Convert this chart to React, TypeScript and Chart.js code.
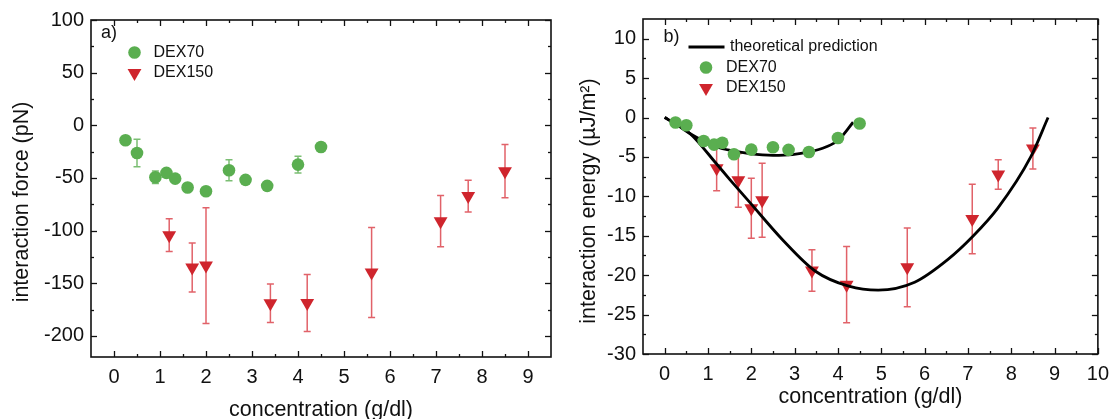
import React, { useEffect, useRef } from "react";
import { Chart, registerables } from "chart.js";

Chart.register(...registerables);

// ---------- data ----------
const DEX70_X = [0.25, 0.5, 0.9, 1.14, 1.33, 1.6, 2.0, 2.5, 2.86, 3.33, 4.0, 4.5];

// panel a) interaction force (pN)
const FORCE_DEX70 = [-14.2, -26.3, -49.3, -45.2, -50.6, -59.1, -62.6, -42.7, -51.8, -57.5, -37.3, -20.6];
const FORCE_DEX70_ERR = [2, 13, 6, 3, 2, 2, 3, 10, 3, 3, 8, 3];
const FORCE_DEX150_X = [1.2, 1.7, 2.0, 3.4, 4.2, 5.6, 7.1, 7.7, 8.5];
const FORCE_DEX150 = [-104.3, -135, -133.2, -169, -168.7, -139.8, -91, -67.2, -43.6];
const FORCE_DEX150_ERR = [15.5, 23.2, 55, 18.3, 27, 42.8, 24.3, 15, 25.3];

// panel b) interaction energy (µJ/m²)
const ENERGY_DEX70 = [-0.63, -0.97, -2.98, -3.44, -3.2, -4.66, -4.07, -3.78, -4.1, -4.37, -2.6, -0.76];
const ENERGY_DEX70_ERR = [0.2, 0.2, 0.3, 0.3, 0.3, 0.4, 0.3, 0.5, 0.3, 0.4, 0.4, 0.2];
const ENERGY_DEX150_X = [1.2, 1.7, 2.0, 2.25, 3.4, 4.2, 5.6, 7.1, 7.7, 8.5];
const ENERGY_DEX150 = [-6.45, -7.97, -11.5, -10.5, -19.4, -21.2, -19.0, -12.87, -7.24, -3.93];
const ENERGY_DEX150_ERR = [2.83, 3.4, 3.8, 4.7, 2.64, 4.85, 5.0, 4.4, 1.87, 2.6];

// theoretical prediction curves
const THEORY_DEX70_X = [0, 0.25, 0.59, 0.9, 1.2, 1.58, 1.96, 2.5, 2.95, 3.33, 3.72, 4.02, 4.35];
const THEORY_DEX70_Y = [0, -0.8, -2.05, -2.98, -3.74, -4.24, -4.58, -4.79, -4.7, -4.37, -3.74, -2.81, -0.6];
const THEORY_DEX150_X = [0, 0.25, 0.59, 1.2, 1.51, 1.95, 2.72, 3.48, 4.25, 4.93, 5.77, 6.54, 7.11, 7.69, 8.45, 8.85];
const THEORY_DEX150_Y = [0, -0.8, -2.05, -5.9, -7.9, -10.67, -15.5, -19.5, -21.4, -21.9, -20.9, -18.0, -15.1, -11.5, -5.0, 0];

// ticks
const FORCE_X_TICKS = [0, 1, 2, 3, 4, 5, 6, 7, 8, 9];
const FORCE_X_MINOR = [0.5, 1.5, 2.5, 3.5, 4.5, 5.5, 6.5, 7.5, 8.5];
const FORCE_Y_TICKS = [-200, -150, -100, -50, 0, 50, 100];
const FORCE_Y_MINOR = [-175, -125, -75, -25, 25, 75];
const ENERGY_X_TICKS = [0, 1, 2, 3, 4, 5, 6, 7, 8, 9, 10];
const ENERGY_X_MINOR = [0.5, 1.5, 2.5, 3.5, 4.5, 5.5, 6.5, 7.5, 8.5, 9.5];
const ENERGY_Y_TICKS = [-30, -25, -20, -15, -10, -5, 0, 5, 10];
const ENERGY_Y_MINOR = [-27.5, -22.5, -17.5, -12.5, -7.5, -2.5, 2.5, 7.5];

// ---------- styles ----------
const GREEN = "#5aae50";
const RED = "#cf252d";
const GREEN_ERR = "rgba(90,174,80,0.8)";
const RED_ERR = "rgba(215,45,55,0.75)";
const INK = "#111";
const FAMILY = "'Liberation Sans', Arial, Helvetica, sans-serif";
const CIRCLE_R = 6.3;
const TRI_R = 8;

const pts = (xs: number[], ys: number[]) => xs.map((x, i) => ({ x, y: ys[i] }));

function errorPlugin(sets: { xs: number[]; ys: number[]; err: number[]; color: string }[]) {
  return {
    id: "errorbars",
    beforeDatasetsDraw(chart: any) {
      const { ctx, scales } = chart;
      ctx.save();
      ctx.lineWidth = 1.5;
      sets.forEach((s) => {
        ctx.strokeStyle = s.color;
        s.xs.forEach((xv, i) => {
          const x = scales.x.getPixelForValue(xv);
          const y1 = scales.y.getPixelForValue(s.ys[i] + s.err[i]);
          const y2 = scales.y.getPixelForValue(s.ys[i] - s.err[i]);
          ctx.beginPath();
          ctx.moveTo(x, y1);
          ctx.lineTo(x, y2);
          ctx.moveTo(x - 3.5, y1);
          ctx.lineTo(x + 3.5, y1);
          ctx.moveTo(x - 3.5, y2);
          ctx.lineTo(x + 3.5, y2);
          ctx.stroke();
        });
      });
      ctx.restore();
    },
  };
}

function framePlugin(
  xMajor: number[],
  xMinor: number[],
  yMajor: number[],
  yMinor: number[],
  yTitle: { text: string; x: number; y: number }
) {
  return {
    id: "frame",
    afterDraw(chart: any) {
      const { ctx, chartArea: a, scales } = chart;
      ctx.save();
      ctx.strokeStyle = INK;
      ctx.lineWidth = 1.6;
      ctx.strokeRect(a.left, a.top, a.right - a.left, a.bottom - a.top);
      ctx.lineWidth = 1.3;
      const seg = (x1: number, y1: number, x2: number, y2: number) => {
        ctx.beginPath();
        ctx.moveTo(x1, y1);
        ctx.lineTo(x2, y2);
        ctx.stroke();
      };
      const xt = (vals: number[], len: number) =>
        vals.forEach((v) => {
          const x = Math.round(scales.x.getPixelForValue(v)) + 0.5;
          seg(x, a.bottom, x, a.bottom - len);
          seg(x, a.top, x, a.top + len);
        });
      const yt = (vals: number[], len: number) =>
        vals.forEach((v) => {
          const y = Math.round(scales.y.getPixelForValue(v)) + 0.5;
          seg(a.left, y, a.left + len, y);
          seg(a.right, y, a.right - len, y);
        });
      xt(xMajor, 6);
      xt(xMinor, 3);
      yt(yMajor, 6);
      yt(yMinor, 3);
      // rotated y-axis title
      ctx.translate(yTitle.x, yTitle.y);
      ctx.rotate(-Math.PI / 2);
      ctx.fillStyle = INK;
      ctx.font = `21.5px ${FAMILY}`;
      ctx.textAlign = "center";
      ctx.textBaseline = "middle";
      ctx.fillText(yTitle.text, 0, 0);
      ctx.restore();
    },
  };
}

type LegendItem = { kind: "circle" | "triangle" | "line"; x: number; y: number; tx: number; text: string };

function legendPlugin(tag: { x: number; y: number; text: string }, items: LegendItem[]) {
  return {
    id: "legendInside",
    afterDraw(chart: any) {
      const { ctx } = chart;
      ctx.save();
      ctx.fillStyle = INK;
      ctx.textBaseline = "middle";
      ctx.textAlign = "left";
      ctx.font = `18px ${FAMILY}`;
      ctx.fillText(tag.text, tag.x, tag.y);
      ctx.font = `16px ${FAMILY}`;
      items.forEach((it) => {
        if (it.kind === "circle") {
          ctx.fillStyle = GREEN;
          ctx.beginPath();
          ctx.arc(it.x, it.y, CIRCLE_R, 0, Math.PI * 2);
          ctx.fill();
        } else if (it.kind === "triangle") {
          const r = TRI_R;
          ctx.fillStyle = RED;
          ctx.beginPath();
          ctx.moveTo(it.x, it.y + r);
          ctx.lineTo(it.x - r * 0.866, it.y - r / 2);
          ctx.lineTo(it.x + r * 0.866, it.y - r / 2);
          ctx.closePath();
          ctx.fill();
        } else {
          ctx.strokeStyle = "#000";
          ctx.lineWidth = 2.8;
          ctx.beginPath();
          ctx.moveTo(it.x - 18, it.y);
          ctx.lineTo(it.x + 18, it.y);
          ctx.stroke();
        }
        ctx.fillStyle = INK;
        ctx.fillText(it.text, it.tx, it.y);
      });
      ctx.restore();
    },
  };
}

function axis(
  min: number,
  max: number,
  major: number[],
  size: number,
  horizontal: boolean,
  title: string,
  tickPad: number,
  titlePad: any
) {
  return {
    type: "linear",
    min,
    max,
    afterBuildTicks: (s: any) => {
      s.ticks = major.map((v) => ({ value: v }));
    },
    afterFit: (s: any) => {
      if (horizontal) s.height = size;
      else s.width = size;
    },
    grid: { display: false, drawTicks: false },
    border: { display: false },
    ticks: {
      font: { family: FAMILY, size: 20 },
      color: INK,
      padding: tickPad,
      autoSkip: false,
      maxRotation: 0,
      callback: (v: any) => String(v),
    },
    title: {
      display: horizontal,
      text: title,
      font: { family: FAMILY, size: 21.5 },
      color: INK,
      padding: titlePad,
    },
  };
}

function forceConfig(): any {
  return {
    type: "scatter",
    data: {
      datasets: [
        {
          label: "DEX70",
          data: pts(DEX70_X, FORCE_DEX70),
          pointStyle: "circle",
          pointRadius: CIRCLE_R,
          backgroundColor: GREEN,
          borderColor: GREEN,
          borderWidth: 0,
        },
        {
          label: "DEX150",
          data: pts(FORCE_DEX150_X, FORCE_DEX150),
          pointStyle: "triangle",
          rotation: 180,
          pointRadius: TRI_R,
          backgroundColor: RED,
          borderColor: RED,
          borderWidth: 0,
        },
      ],
    },
    options: {
      animation: false,
      responsive: false,
      events: [],
      layout: { padding: { left: 0, top: 20, right: 9, bottom: 0 } },
      plugins: { legend: { display: false }, tooltip: { enabled: false } },
      scales: {
        x: axis(-0.5, 9.5, FORCE_X_TICKS, 62, true, "concentration (g/dl)", 8, { top: 0, bottom: -4 }),
        y: axis(-220, 100, FORCE_Y_TICKS, 91, false, "", 7, 0),
      },
    },
    plugins: [
      errorPlugin([
        { xs: DEX70_X, ys: FORCE_DEX70, err: FORCE_DEX70_ERR, color: GREEN_ERR },
        { xs: FORCE_DEX150_X, ys: FORCE_DEX150, err: FORCE_DEX150_ERR, color: RED_ERR },
      ]),
      framePlugin(FORCE_X_TICKS, FORCE_X_MINOR, FORCE_Y_TICKS, FORCE_Y_MINOR, {
        text: "interaction force (pN)",
        x: 22,
        y: 202,
      }),
      legendPlugin({ x: 101, y: 33, text: "a)" }, [
        { kind: "circle", x: 134.5, y: 52.5, tx: 153.5, text: "DEX70" },
        { kind: "triangle", x: 134.5, y: 73, tx: 153.5, text: "DEX150" },
      ]),
    ],
  };
}

function energyConfig(): any {
  return {
    type: "scatter",
    data: {
      datasets: [
        {
          label: "DEX70",
          data: pts(DEX70_X, ENERGY_DEX70),
          pointStyle: "circle",
          pointRadius: CIRCLE_R,
          backgroundColor: GREEN,
          borderColor: GREEN,
          borderWidth: 0,
        },
        {
          label: "theory DEX70",
          data: pts(THEORY_DEX70_X, THEORY_DEX70_Y),
          showLine: true,
          pointRadius: 0,
          borderColor: "#000",
          borderWidth: 2.8,
          cubicInterpolationMode: "monotone",
          fill: false,
        },
        {
          label: "theoretical prediction",
          data: pts(THEORY_DEX150_X, THEORY_DEX150_Y),
          showLine: true,
          pointRadius: 0,
          borderColor: "#000",
          borderWidth: 2.8,
          cubicInterpolationMode: "monotone",
          fill: false,
        },
        {
          label: "DEX150",
          data: pts(ENERGY_DEX150_X, ENERGY_DEX150),
          pointStyle: "triangle",
          rotation: 180,
          pointRadius: TRI_R,
          backgroundColor: RED,
          borderColor: RED,
          borderWidth: 0,
        },
      ],
    },
    options: {
      animation: false,
      responsive: false,
      events: [],
      layout: { padding: { left: 0, top: 18, right: 15, bottom: 0 } },
      plugins: { legend: { display: false }, tooltip: { enabled: false } },
      scales: {
        x: axis(-0.5, 10, ENERGY_X_TICKS, 65, true, "concentration (g/dl)", 8, { top: 0, bottom: 9 }),
        y: axis(-30, 12.5, ENERGY_Y_TICKS, 83, false, "", 7, 0),
      },
    },
    plugins: [
      errorPlugin([
        { xs: DEX70_X, ys: ENERGY_DEX70, err: ENERGY_DEX70_ERR, color: GREEN_ERR },
        { xs: ENERGY_DEX150_X, ys: ENERGY_DEX150, err: ENERGY_DEX150_ERR, color: RED_ERR },
      ]),
      framePlugin(ENERGY_X_TICKS, ENERGY_X_MINOR, ENERGY_Y_TICKS, ENERGY_Y_MINOR, {
        text: "interaction energy (µJ/m²)",
        x: 29,
        y: 201,
      }),
      legendPlugin({ x: 103.5, y: 37, text: "b)" }, [
        { kind: "line", x: 146.5, y: 47, tx: 170, text: "theoretical prediction" },
        { kind: "circle", x: 146, y: 67.5, tx: 166, text: "DEX70" },
        { kind: "triangle", x: 146, y: 88, tx: 166, text: "DEX150" },
      ]),
    ],
  };
}

function Panel({ build, left, width, height }: { build: () => any; left: number; width: number; height: number }) {
  const ref = useRef<HTMLCanvasElement | null>(null);
  useEffect(() => {
    const chart = new Chart(ref.current as HTMLCanvasElement, build());
    return () => chart.destroy();
  }, []);
  return (
    <canvas
      ref={ref}
      width={width}
      height={height}
      style={{ position: "absolute", left, top: 0, width, height, display: "block" }}
    />
  );
}

export default function App() {
  return (
    <div
      style={{
        position: "fixed",
        left: 0,
        top: 0,
        width: 1117,
        height: 419,
        background: "#fff",
        overflow: "hidden",
      }}
    >
      <Panel build={forceConfig} left={0} width={560} height={419} />
      <Panel build={energyConfig} left={560} width={557} height={419} />
    </div>
  );
}
